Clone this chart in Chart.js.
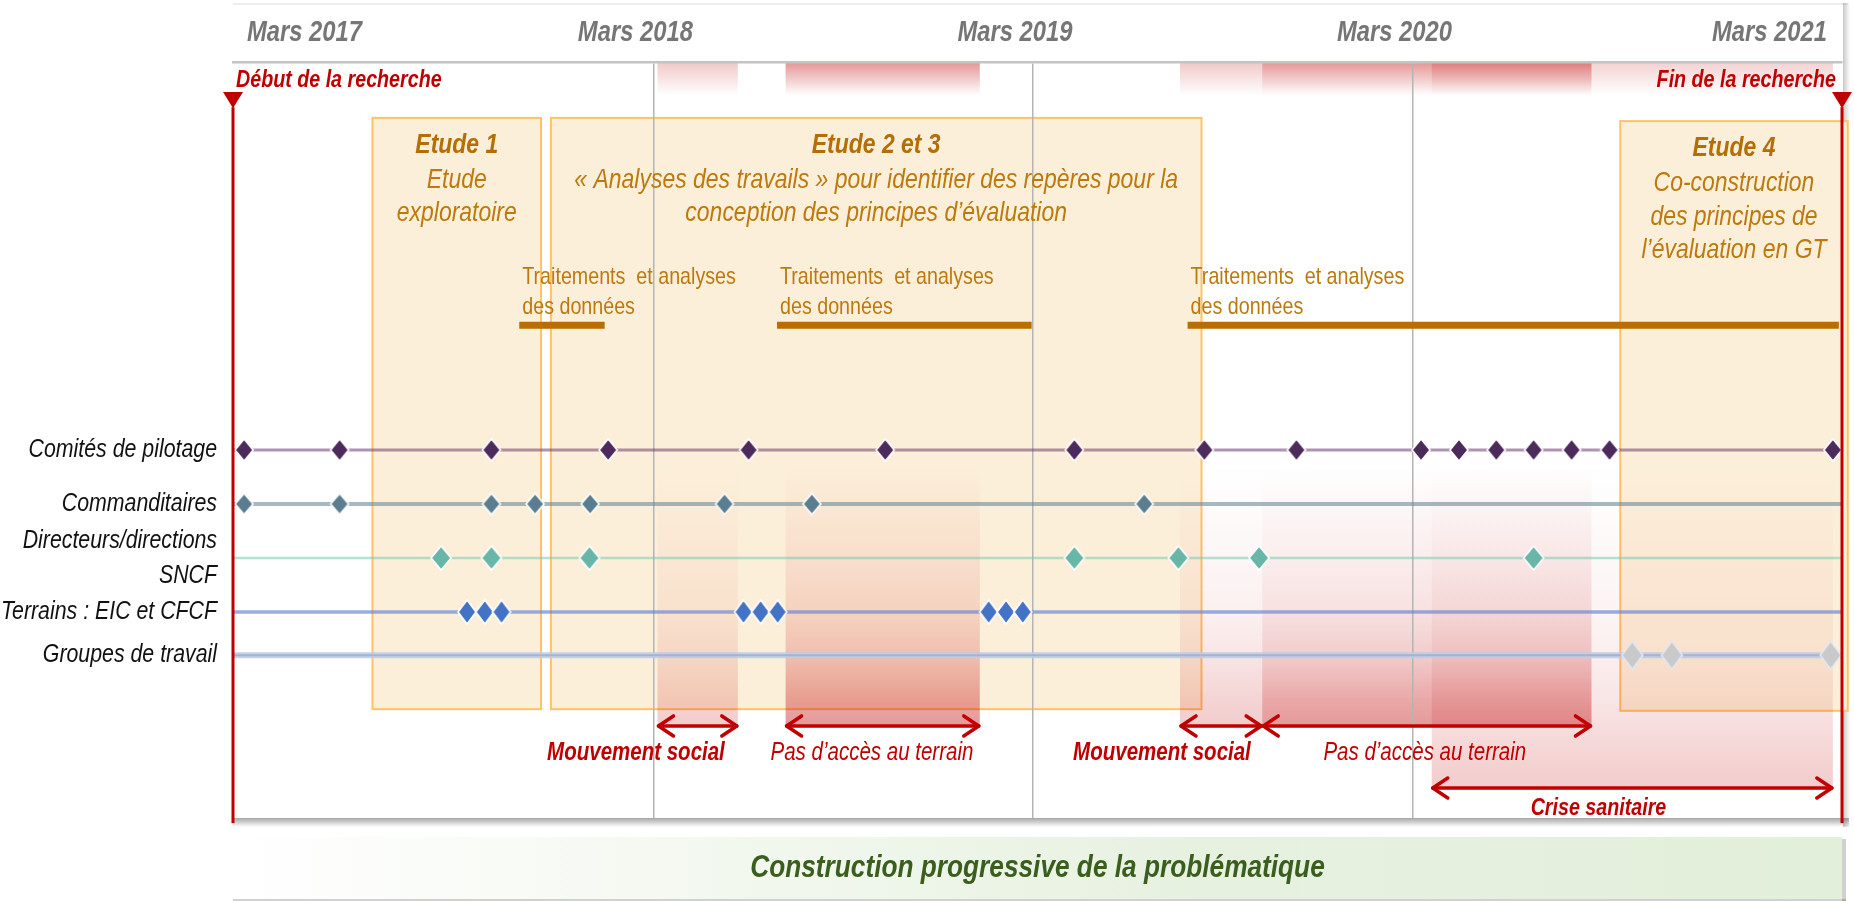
<!DOCTYPE html>
<html lang="fr">
<head>
<meta charset="UTF-8">
<title>Chronologie de la recherche</title>
<script src="https://cdn.jsdelivr.net/npm/chart.js"></script>
<style>
  html, body { margin: 0; padding: 0; background: #fff; }
  #wrap { position: relative; width: 1854px; height: 901px; }
</style>
</head>
<body>
<div id="wrap"><canvas id="timeline"></canvas></div>
<script>
// x = mois comptés depuis mars 2017 (12 = mars 2018, 24 = mars 2019 ...)
const debutRecherche = -1.29;
const finRecherche = 49.58;

const tickMonths = [0, 12, 24, 36, 48];
const tickLabels = ['Mars 2017', 'Mars 2018', 'Mars 2019', 'Mars 2020', 'Mars 2021'];

// lignes d'acteurs (y = niveau de la ligne)
const rowLabels = ['Comités de pilotage', 'Commanditaires', ['Directeurs/directions', 'SNCF'], 'Terrains : EIC et CFCF', 'Groupes de travail'];
const rowLevels = [0, 1, 2, 3, 3.8];

const comites = [-0.94, 2.08, 6.88, 10.57, 15.01, 19.33, 25.31, 29.42, 32.33, 36.27, 37.47, 38.65, 39.83, 41.03, 42.23, 49.29];
const commanditaires = [-0.94, 2.08, 6.88, 8.26, 10.0, 14.25, 17.01, 27.52];
const directeurs = [5.29, 6.88, 9.98, 25.31, 28.6, 31.15, 39.83];
const terrains = [6.11, 6.67, 7.2, 14.85, 15.39, 15.93, 22.6, 23.15, 23.68];
const groupes = [42.95, 44.2, 49.22];

// études
const etudeTitres = ['Etude 1', 'Etude 2 et 3', 'Etude 4'];
const etudeTextes = [
  ['Etude', 'exploratoire'],
  ['« Analyses des travails » pour identifier des repères pour la', 'conception des principes d’évaluation'],
  ['Co-construction', 'des principes de', 'l’évaluation en GT']
];
const etudeDebut = [3.12, 8.76, 42.57];
const etudeFin = [8.45, 29.33, 49.76];

// traitements et analyses des données
const traitementsDebut = [7.76, 15.91, 28.89];
const traitementsFin = [10.46, 23.96, 49.48];

// aléas
const aleaLabels = ['Mouvement social', 'Pas d’accès au terrain', 'Mouvement social', 'Pas d’accès au terrain', 'Crise sanitaire'];
const aleaDebut = [12.13, 16.18, 28.65, 31.25, 36.61];
const aleaFin = [14.67, 22.32, 31.25, 41.66, 49.29];
const aleaLabelAt = [11.45, 18.91, 28.08, 36.39, 41.88];

const bandeTexte = 'Construction progressive de la problématique';

// ---- styles ----
const RED = '#C00000';
const ORANGE_TXT = '#BC7A0E';
const ORANGE_TITRE = '#B36E06';
const FONT = '"Liberation Sans", Arial, sans-serif';
const NARROW = 0.82; // pas de police étroite installée : on comprime horizontalement
const f = (size, weight = 'normal', style = 'italic') => `${style} ${weight} ${size}px ${FONT}`;

// niveaux verticaux, en unités de l'axe y (1 = écart entre deux lignes)
const Y = {
  rechercheTexte: -6.85, triangleHaut: -6.63, triangleBas: -6.33, rougeBas: 6.91,
  bandeBas: -6.57,
  etudeHaut: [-6.15, -6.15, -6.09], etudeBas: [4.80, 4.80, 4.83],
  titre: 0.5, ligne1: 1.15, pas: 0.62,
  trait1: -3.20, trait2: -2.65, traitBarre: -2.31,
  colHaut: 0.25, fleche: [5.11, 6.26], flecheTexte: [5.61, 6.63]
};

const aleaStyle = {
  'Mouvement social':       { haut: 0.22, bas: 0.2, gras: true,  niveau: 0, taille: 25 },
  'Pas d’accès au terrain': { haut: 0.42, bas: 0.4, gras: false, niveau: 0, taille: 25 },
  'Crise sanitaire':        { haut: 0.18, bas: 0.2, gras: true,  niveau: 1, taille: 24 }
};
const colStops = [[0, 0], [0.36, 0.18], [0.57, 0.3], [0.73, 0.5], [0.9, 0.85], [1, 1]];

function diamant(w, h, fill, stroke) {
  const c = document.createElement('canvas');
  c.width = w + 4; c.height = h + 4;
  const g = c.getContext('2d');
  g.beginPath();
  g.moveTo(c.width / 2, 2); g.lineTo(c.width - 2, c.height / 2);
  g.lineTo(c.width / 2, c.height - 2); g.lineTo(2, c.height / 2);
  g.closePath();
  g.fillStyle = fill; g.fill();
  g.lineWidth = 1.6; g.strokeStyle = stroke; g.stroke();
  return c;
}

function texte(ctx, s, x, y, font, color, align = 'center') {
  ctx.save();
  ctx.font = font; ctx.fillStyle = color;
  ctx.textAlign = align; ctx.textBaseline = 'middle';
  ctx.translate(x, y); ctx.scale(NARROW, 1);
  ctx.fillText(s, 0, 0);
  ctx.restore();
}
function largeur(ctx, s, font) {
  ctx.save(); ctx.font = font;
  const w = ctx.measureText(s).width * NARROW;
  ctx.restore();
  return w;
}

function fleche(ctx, x1, x2, y) {
  ctx.save();
  ctx.strokeStyle = RED; ctx.lineWidth = 3.5; ctx.lineCap = 'round'; ctx.lineJoin = 'round';
  ctx.beginPath(); ctx.moveTo(x1 + 1, y); ctx.lineTo(x2 - 1, y); ctx.stroke();
  ctx.beginPath();
  ctx.moveTo(x1 + 16, y - 10); ctx.lineTo(x1 + 1, y); ctx.lineTo(x1 + 16, y + 10);
  ctx.moveTo(x2 - 16, y - 10); ctx.lineTo(x2 - 1, y); ctx.lineTo(x2 - 16, y + 10);
  ctx.stroke();
  ctx.restore();
}

const decor = {
  id: 'decor',
  beforeDraw(chart) {
    const { ctx, chartArea: a, scales: { x, y } } = chart;
    const X = v => x.getPixelForValue(v), P = v => y.getPixelForValue(v);
    ctx.save();
    ctx.fillStyle = '#fff'; ctx.fillRect(0, 0, chart.width, chart.height);

    // cadre : filet haut et ombres
    ctx.fillStyle = '#EEEEEE'; ctx.fillRect(a.left, 3, a.right - a.left + 6, 2);
    let g = ctx.createLinearGradient(0, a.bottom, 0, a.bottom + 9);
    g.addColorStop(0, 'rgba(0,0,0,0.35)'); g.addColorStop(1, 'rgba(0,0,0,0)');
    ctx.fillStyle = g; ctx.fillRect(a.left, a.bottom, a.right - a.left + 7, 9);
    g = ctx.createLinearGradient(a.right + 1, 0, a.right + 8, 0);
    g.addColorStop(0, 'rgba(0,0,0,0.22)'); g.addColorStop(1, 'rgba(0,0,0,0)');
    ctx.fillStyle = g; ctx.fillRect(a.right + 1, 3, 7, a.bottom + 6);

    // bandes rouges sous l'en-tête
    aleaDebut.forEach((d, i) => {
      const st = aleaStyle[aleaLabels[i]];
      const x1 = X(d), x2 = X(aleaFin[i]), yb = P(Y.bandeBas);
      const gy = ctx.createLinearGradient(0, a.top, 0, yb);
      gy.addColorStop(0, `rgba(192,0,0,${st.haut})`); gy.addColorStop(1, 'rgba(192,0,0,0)');
      ctx.fillStyle = gy; ctx.fillRect(x1, a.top + 1, x2 - x1, yb - a.top);
    });

    // cadres des études
    etudeDebut.forEach((d, i) => {
      const x1 = X(d), x2 = X(etudeFin[i]), y1 = P(Y.etudeHaut[i]), y2 = P(Y.etudeBas[i]);
      ctx.fillStyle = '#FCEFDA'; ctx.fillRect(x1, y1, x2 - x1, y2 - y1);
      ctx.strokeStyle = '#FFC266'; ctx.lineWidth = 2; ctx.strokeRect(x1, y1, x2 - x1, y2 - y1);
    });

    // colonnes des aléas
    aleaDebut.forEach((d, i) => {
      const st = aleaStyle[aleaLabels[i]];
      const x1 = X(d), x2 = X(aleaFin[i]);
      const y1 = P(Y.colHaut), y2 = P(Y.fleche[st.niveau]);
      const gy = ctx.createLinearGradient(0, y1, 0, y2);
      colStops.forEach(([t, k]) => gy.addColorStop(t, `rgba(192,0,0,${(k * st.bas).toFixed(3)})`));
      ctx.fillStyle = gy; ctx.fillRect(x1, y1, x2 - x1, y2 - y1);
    });

    // bandeau du bas
    const by1 = a.bottom + 19, by2 = chart.height - 2;
    g = ctx.createLinearGradient(a.left, 0, a.right, 0);
    g.addColorStop(0, '#FFFFFF'); g.addColorStop(0.6, '#E7F1E0'); g.addColorStop(1, '#E2EFDA');
    ctx.fillStyle = g; ctx.fillRect(a.left, by1, a.right - a.left, by2 - by1);
    ctx.fillStyle = 'rgba(0,0,0,0.18)';
    ctx.fillRect(a.left, by2, a.right - a.left + 4, 2);
    ctx.fillRect(a.right, by1 + 2, 4, by2 - by1);
    texte(ctx, bandeTexte, (a.left + a.right) / 2, (by1 + by2) / 2, f(32, 'bold'), '#3A5E1E');
    ctx.restore();
  },
  beforeDatasetsDraw(chart) {
    const { ctx, scales: { x, y } } = chart;
    const X = v => x.getPixelForValue(v), P = v => y.getPixelForValue(v);
    // textes des études
    etudeTitres.forEach((t, i) => {
      const cx = (X(etudeDebut[i]) + X(etudeFin[i])) / 2, top = Y.etudeHaut[i];
      texte(ctx, t, cx, P(top + Y.titre), f(28, 'bold'), ORANGE_TITRE);
      etudeTextes[i].forEach((l, j) => texte(ctx, l, cx, P(top + Y.ligne1 + j * Y.pas), f(28), ORANGE_TXT));
    });
    // traitements et analyses
    traitementsDebut.forEach((d, i) => {
      const x1 = X(d), x2 = X(traitementsFin[i]), yb = P(Y.traitBarre);
      ctx.fillStyle = '#B86E00'; ctx.fillRect(x1, yb - 3.5, x2 - x1, 7);
      texte(ctx, 'Traitements  et analyses', x1 + 3, P(Y.trait1), f(24, 'normal', 'normal'), ORANGE_TXT, 'left');
      texte(ctx, 'des données', x1 + 3, P(Y.trait2), f(24, 'normal', 'normal'), ORANGE_TXT, 'left');
    });
  },
  afterDatasetsDraw(chart) {
    const { ctx, chartArea: a, scales: { x, y } } = chart;
    const X = v => x.getPixelForValue(v), P = v => y.getPixelForValue(v);
    ctx.save();
    // début / fin de la recherche
    [debutRecherche, finRecherche].forEach(v => {
      const cx = X(v);
      ctx.fillStyle = RED; ctx.fillRect(cx - 1.5, P(Y.triangleBas) - 1, 3, P(Y.rougeBas) - P(Y.triangleBas) + 1);
      ctx.beginPath();
      ctx.moveTo(cx - 10, P(Y.triangleHaut)); ctx.lineTo(cx + 10, P(Y.triangleHaut)); ctx.lineTo(cx, P(Y.triangleBas));
      ctx.closePath(); ctx.fill();
    });
    ctx.restore();
    texte(ctx, 'Début de la recherche', X(debutRecherche) + 3, P(Y.rechercheTexte), f(24, 'bold'), RED, 'left');
    texte(ctx, 'Fin de la recherche', X(finRecherche) - 6, P(Y.rechercheTexte), f(24, 'bold'), RED, 'right');

    // flèches des aléas
    aleaDebut.forEach((d, i) => {
      const st = aleaStyle[aleaLabels[i]];
      fleche(ctx, X(d), X(aleaFin[i]), P(Y.fleche[st.niveau]));
      texte(ctx, aleaLabels[i], X(aleaLabelAt[i]), P(Y.flecheTexte[st.niveau]),
        f(st.taille, st.gras ? 'bold' : 'normal'), RED);
    });

    // libellés de l'axe du temps (en haut)
    const hf = f(29, 'bold');
    x.ticks.forEach(t => {
      const s = tickLabels[tickMonths.indexOf(t.value)];
      const w = largeur(ctx, s, hf);
      let cx = X(t.value) - 18;
      cx = Math.max(cx, a.left + 14 + w / 2);
      cx = Math.min(cx, a.right - 15 - w / 2);
      texte(ctx, s, cx, (x.top + x.bottom) / 2 + 2, hf, '#767676');
    });

    // libellés des lignes (axe y)
    const lf = f(26);
    y.ticks.forEach(t => {
      const lab = rowLabels[rowLevels.indexOf(t.value)];
      const lines = Array.isArray(lab) ? lab : [lab];
      const cy = P(t.value);
      lines.forEach((l, j) => texte(ctx, l, y.right - 16, cy + (j - (lines.length - 1) / 2) * 35, lf, '#111', 'right'));
    });
  }
};

// ---- datasets ----
const rowData = [comites, commanditaires, directeurs, terrains, groupes];
const rowLine = [
  { color: 'rgba(110,60,110,0.55)', width: 3 },
  { color: 'rgba(110,140,155,0.62)', width: 4 },
  { color: 'rgba(120,200,175,0.55)', width: 2.5 },
  { color: 'rgba(100,130,210,0.65)', width: 3.5 },
  { color: 'rgba(190,204,230,0.9)', width: 6 }
];
const rowMarker = [
  diamant(18, 22, '#4D2A5C', '#FFFFFF'),
  diamant(18, 21, '#5A7D8F', '#FFFFFF'),
  diamant(20, 24, '#68B6A8', '#FFFFFF'),
  diamant(18, 24, '#4472C4', '#FFFFFF'),
  diamant(21, 28, '#C9C9C9', '#E3E8F1')
];

const datasets = [];
rowLevels.forEach((lvl, i) => {
  datasets.push({
    data: [{ x: debutRecherche, y: lvl }, { x: finRecherche, y: lvl }],
    showLine: true, borderColor: rowLine[i].color, borderWidth: rowLine[i].width,
    pointRadius: 0, order: 10
  });
});
datasets.push({
  data: [{ x: debutRecherche, y: rowLevels[4] }, { x: finRecherche, y: rowLevels[4] }],
  showLine: true, borderColor: 'rgba(160,176,208,0.9)', borderWidth: 2, pointRadius: 0, order: 9
});
rowData.forEach((arr, i) => {
  datasets.push({
    data: arr.map(m => ({ x: m, y: rowLevels[i] })),
    pointStyle: rowMarker[i], pointRadius: 11, showLine: false, clip: false, order: 1
  });
});

new Chart(document.getElementById('timeline'), {
  type: 'scatter',
  data: { datasets },
  plugins: [decor],
  options: {
    responsive: true, maintainAspectRatio: false, animation: false, devicePixelRatio: 1,
    events: [],
    layout: { padding: { left: 0, right: 8, top: 0, bottom: 83 } },
    plugins: { legend: { display: false }, tooltip: { enabled: false } },
    scales: {
      x: {
        type: 'linear', position: 'top', min: debutRecherche, max: finRecherche,
        afterBuildTicks: s => { s.ticks = tickMonths.map(v => ({ value: v })); },
        afterFit: s => { s.height = 62; },
        ticks: { display: false },
        grid: {
          drawTicks: false, lineWidth: 1.5,
          color: c => (c.tick && [12, 24, 36].includes(c.tick.value)) ? '#B4B4B4' : 'rgba(0,0,0,0)'
        },
        border: { display: true, color: '#C4C4C4', width: 2.5 }
      },
      y: {
        type: 'linear', reverse: true, min: -7.185, max: 6.815,
        afterBuildTicks: s => { s.ticks = rowLevels.map(v => ({ value: v })); },
        afterFit: s => { s.width = 233; },
        ticks: { display: false },
        grid: { display: false, drawTicks: false },
        border: { display: false }
      }
    }
  }
});
</script>
</body>
</html>
